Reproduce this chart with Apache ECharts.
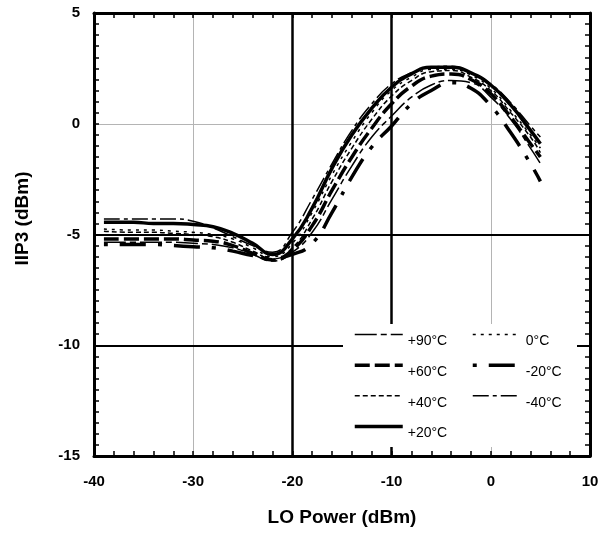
<!DOCTYPE html>
<html>
<head>
<meta charset="utf-8">
<title>IIP3 vs LO Power</title>
<script src="https://cdn.jsdelivr.net/npm/echarts@6/dist/echarts.min.js"></script>
<style>
body { margin: 0; background: #fff; }
#chart { width: 602px; height: 533px; }
</style>
</head>
<body>
<div id="chart"></div>
<script>
// LO power sweep (dBm)
var loPower = [-39, -36, -34, -32, -30, -28, -26, -24, -22, -20, -18, -16, -14, -12, -10, -8, -6, -4, -2, 0, 2, 4, 5];

// IIP3 (dBm) per temperature
var iip3m40 = [-4.3, -4.3, -4.3, -4.3, -4.4, -4.7, -5.1, -5.5, -5.8, -4.9, -3.4, -1.8, -0.3, 0.9, 1.8, 2.3, 2.55, 2.6, 2.3, 1.8, 0.95, -0.1, -0.6];
var iip3p20 = [-4.45, -4.45, -4.5, -4.5, -4.55, -4.65, -4.95, -5.4, -5.9, -5.2, -3.8, -2.0, -0.5, 0.7, 1.65, 2.25, 2.55, 2.55, 2.3, 1.75, 0.85, -0.3, -0.9];
var iip3z0 = [-4.75, -4.8, -4.8, -4.85, -4.9, -5.0, -5.2, -5.6, -6.0, -5.4, -4.0, -2.3, -0.8, 0.5, 1.5, 2.1, 2.45, 2.45, 2.2, 1.6, 0.6, -0.5, -1.1];
var iip3p40 = [-4.85, -4.9, -4.9, -4.95, -5.0, -5.1, -5.35, -5.75, -6.1, -5.6, -4.3, -2.6, -1.1, 0.2, 1.25, 1.95, 2.35, 2.4, 2.1, 1.5, 0.5, -0.6, -1.3];
var iip3p60 = [-5.2, -5.2, -5.2, -5.2, -5.25, -5.3, -5.5, -5.85, -6.15, -5.7, -4.6, -3.0, -1.5, -0.2, 0.9, 1.7, 2.15, 2.25, 2.0, 1.35, 0.3, -0.9, -1.5];
var iip3p90 = [-5.35, -5.35, -5.35, -5.35, -5.4, -5.45, -5.6, -5.9, -6.2, -5.8, -4.9, -3.4, -1.9, -0.6, 0.35, 1.2, 1.75, 1.95, 1.85, 1.2, 0.2, -1.1, -1.8];
var iip3m20 = [-5.45, -5.45, -5.45, -5.5, -5.55, -5.6, -5.75, -5.95, -6.05, -5.9, -5.4, -4.0, -2.4, -1.05, -0.1, 0.9, 1.5, 1.85, 1.6, 0.8, -0.4, -1.8, -2.6];

// black reference lines
var refX = [-20, -10];
var refY = [-5, -10];

var col1 = ['+90°C', '+60°C', '+40°C', '+20°C'];
var col2 = ['0°C', '-20°C', '-40°C'];

function pairs(ys) {
  return loPower.map(function (x, i) { return [x, ys[i]]; });
}

function curve(name, ys, width, dash) {
  return {
    name: name,
    type: 'line',
    data: pairs(ys),
    smooth: true,
    showSymbol: false,
    symbol: 'none',
    color: '#000',
    lineStyle: { color: '#000', width: width, type: dash },
    z: 2
  };
}

var font = 'Liberation Sans, Arial, sans-serif';

function frameAxis(pos, isX) {
  return {
    type: 'value',
    position: pos,
    min: isX ? -40 : -15,
    max: isX ? 10 : 5,
    interval: isX ? 10 : 5,
    axisLine: { show: true, onZero: false, lineStyle: { color: '#000', width: 3 } },
    axisTick: { show: true, inside: true, length: 5, lineStyle: { color: '#000', width: 1.5 } },
    minorTick: { show: true, splitNumber: isX ? 5 : 10, length: 5, lineStyle: { color: '#000', width: 1.5 } },
    splitLine: { show: false },
    axisLabel: { show: false }
  };
}

var xMain = frameAxis('bottom', true);
xMain.name = 'LO Power (dBm)';
xMain.nameLocation = 'middle';
xMain.nameGap = 52;
xMain.nameTextStyle = { fontFamily: font, fontWeight: 'bold', fontSize: 19, color: '#000' };
xMain.axisLabel = { show: true, margin: 18, fontFamily: font, fontWeight: 'bold', fontSize: 15, color: '#000' };
xMain.splitLine = { show: true, lineStyle: { color: '#b4b4b4', width: 1 } };

var yMain = frameAxis('left', false);
yMain.name = 'IIP3 (dBm)';
yMain.nameLocation = 'middle';
yMain.nameGap = 62;
yMain.nameTextStyle = { fontFamily: font, fontWeight: 'bold', fontSize: 19, color: '#000', padding: [0, 0, 0, 32] };
yMain.axisLabel = { show: true, margin: 14, fontFamily: font, fontWeight: 'bold', fontSize: 15, color: '#000' };
yMain.splitLine = { show: true, lineStyle: { color: '#b4b4b4', width: 1 } };

var series = [
  curve('+90°C', iip3p90, 1.5, [22, 4, 6, 4]),
  curve('+60°C', iip3p60, 3.5, [15, 5]),
  curve('+40°C', iip3p40, 1.5, [5, 3]),
  curve('+20°C', iip3p20, 3.5, 'solid'),
  curve('0°C', iip3z0, 1.5, [3, 5]),
  curve('-20°C', iip3m20, 3.5, [4, 12, 26, 12]),
  curve('-40°C', iip3m40, 1.5, [16, 4, 4, 4])
];

series[0].markLine = {
  silent: true,
  symbol: 'none',
  label: { show: false },
  animation: false,
  data: refX.map(function (v) { return { xAxis: v, lineStyle: { color: '#000', width: 2.5, type: 'solid' } }; })
    .concat(refY.map(function (v) { return { yAxis: v, lineStyle: { color: '#000', width: 2, type: 'solid' } }; }))
};

function legendCol(names, left) {
  return {
    data: names,
    orient: 'vertical',
    left: left,
    top: 329,
    padding: 0,
    itemWidth: 48,
    itemHeight: 14,
    itemGap: 11,
    selectedMode: false,
    z: 12,
    itemStyle: { opacity: 0, borderWidth: 0 },
    lineStyle: { width: 'inherit', type: 'inherit' },
    formatter: function (n) { return '{t|' + n + '}'; },
    textStyle: {
      fontFamily: font, fontSize: 14, color: '#000',
      rich: { t: { fontFamily: font, fontSize: 14, color: '#000', padding: [14, 0, 0, 0] } }
    }
  };
}

var chart = echarts.init(document.getElementById('chart'));
chart.setOption({
  animation: false,
  backgroundColor: '#fff',
  grid: { left: 94, right: 12, top: 13, bottom: 77 },
  xAxis: [xMain, frameAxis('top', true)],
  yAxis: [yMain, frameAxis('right', false)],
  legend: [legendCol(col1, 353), legendCol(col2, 471)],
  graphic: [{
    type: 'rect',
    left: 343,
    top: 324,
    z: 10,
    shape: { width: 234, height: 123 },
    style: { fill: '#fff' }
  }],
  series: series
});
</script>
</body>
</html>
